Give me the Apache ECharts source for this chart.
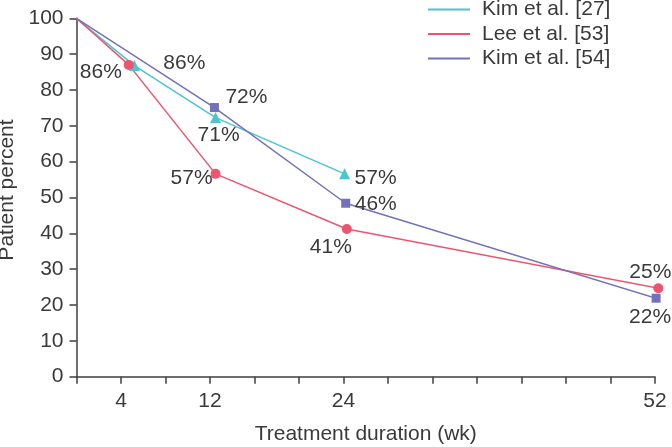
<!DOCTYPE html>
<html>
<head>
<meta charset="utf-8">
<script src="https://cdn.jsdelivr.net/npm/echarts@6/dist/echarts.min.js"></script>
<style>html,body{margin:0;padding:0;background:#fff}#c{width:672px;height:447px}</style>
</head>
<body>
<div id="c"></div>
<script>
// ---- data ----
const seriesNames = ['Kim et al. [27]', 'Lee et al. [53]', 'Kim et al. [54]'];
const xTickLabels = [4, 12, 24, 52];
const yTicks = [0, 10, 20, 30, 40, 50, 60, 70, 80, 90, 100];

const kim27Weeks = [0, 5.2, 12.5, 24.1];
const kim27Values = [100, 86.8, 72.3, 56.6];
const kim27Labels = ['', '86%', '71%', '57%'];

const lee53Weeks = [0, 4.7, 12.5, 24.3, 52.3];
const lee53Values = [100, 87.0, 56.6, 41.2, 24.7];
const lee53Labels = ['', '86%', '57%', '41%', '25%'];

const kim54Weeks = [0, 12.4, 24.2, 52.1];
const kim54Values = [100, 75.1, 48.4, 21.9];
const kim54Labels = ['', '72%', '46%', '22%'];

// ---- layout (label offsets, not data) ----
const kim27Offsets = [[0,0], [50,-2], [3,18], [31,4]];
const lee53Offsets = [[0,0], [-28,7], [-24,4], [-16,18], [-8,-16]];
const kim54Offsets = [[0,0], [32,-10], [30,1], [-6,19]];

const FONT = "'Liberation Sans', Arial, Helvetica, sans-serif";
const FS = 21;
const TXT = '#3a3a3a';
const AX = '#3f3f3f';

function build(weeks, values, labels, offsets) {
  return weeks.map((w, i) => ({
    value: [w, values[i]],
    symbolSize: i === 0 ? 0 : undefined,
    label: {
      show: labels[i] !== '',
      formatter: labels[i],
      position: 'inside',
      offset: offsets[i],
      color: TXT,
      fontSize: FS,
      fontFamily: FONT
    }
  }));
}

const colors = ['#4cc5cf', '#ec5470', '#7470b9'];

const chart = echarts.init(document.getElementById('c'));
chart.setOption({
  animation: false,
  backgroundColor: '#fff',
  textStyle: { fontFamily: FONT },
  grid: { left: 76.5, right: 17, top: 18.3, bottom: 70.3, outerBoundsMode: 'none', containLabel: false },
  legend: {
    orient: 'vertical',
    left: 423,
    top: -6,
    itemWidth: 42,
    itemHeight: 2,
    itemGap: 3.5,
    icon: 'rect',
    textStyle: { color: TXT, fontSize: FS, fontFamily: FONT, padding: [0,0,0,7] },
    data: seriesNames
  },
  xAxis: {
    type: 'value',
    min: 0, max: 52, interval: 4,
    name: 'Treatment duration (wk)',
    nameLocation: 'middle',
    nameGap: 47,
    nameTextStyle: { color: TXT, fontSize: FS, fontFamily: FONT },
    axisLine: { show: true, lineStyle: { color: AX, width: 1.5 } },
    axisTick: { show: true, length: 7, lineStyle: { color: AX, width: 1.5 } },
    splitLine: { show: false },
    axisLabel: {
      color: TXT, fontSize: FS, fontFamily: FONT, margin: 14,
      formatter: v => xTickLabels.indexOf(v) >= 0 ? String(v) : ''
    }
  },
  yAxis: {
    type: 'value',
    min: yTicks[0], max: yTicks[yTicks.length - 1], interval: 10,
    name: 'Patient percent',
    nameLocation: 'middle',
    nameGap: 49,
    nameTextStyle: { color: TXT, fontSize: FS, fontFamily: FONT, padding: [0, 0, 0, 15] },
    axisLine: { show: true, lineStyle: { color: AX, width: 1.5 } },
    axisTick: { show: true, length: 7, lineStyle: { color: AX, width: 1.5 } },
    splitLine: { show: false },
    axisLabel: { color: TXT, fontSize: FS, fontFamily: FONT, margin: 13 }
  },
  series: [
    {
      name: seriesNames[0], type: 'line', clip: false,
      symbol: 'triangle', symbolSize: 11,
      color: colors[0],
      lineStyle: { width: 1.5, color: colors[0] },
      itemStyle: { color: colors[0] },
      data: build(kim27Weeks, kim27Values, kim27Labels, kim27Offsets)
    },
    {
      name: seriesNames[1], type: 'line', clip: false,
      symbol: 'circle', symbolSize: 10,
      color: colors[1],
      lineStyle: { width: 1.5, color: colors[1] },
      itemStyle: { color: colors[1] },
      data: build(lee53Weeks, lee53Values, lee53Labels, lee53Offsets)
    },
    {
      name: seriesNames[2], type: 'line', clip: false,
      symbol: 'rect', symbolSize: 9,
      color: colors[2],
      lineStyle: { width: 1.5, color: colors[2] },
      itemStyle: { color: colors[2] },
      data: build(kim54Weeks, kim54Values, kim54Labels, kim54Offsets)
    }
  ]
});
</script>
</body>
</html>
